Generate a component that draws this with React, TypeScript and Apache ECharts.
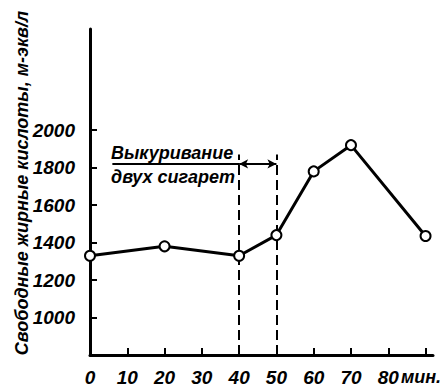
import React, { useEffect, useRef } from "react";
import * as echarts from "echarts";

const minutes = [0, 20, 40, 50, 60, 70, 90];
const ffaValues = [1330, 1380, 1330, 1440, 1780, 1920, 1435];
const yTickValues = [1000, 1200, 1400, 1600, 1800, 2000];
const xTickValues = [10, 20, 30, 40, 50, 60, 70, 80, 90];
const xLabelValues = [0, 10, 20, 30, 40, 50, 60, 70, 80];
const smokingStart = 40;
const smokingEnd = 50;
const dashTop = 1870;
const arrowLevel = 1820;
const underlineStart = 6;
const yAxisTitle = "Свободные жирные кислоты, м-экв/л";
const noteLines = ["Выкуривание", "двух сигарет"];
const unitLabel = "мин.";

const FONT = "'Liberation Sans', Arial, sans-serif";

export default function App() {
  const ref = useRef<HTMLDivElement>(null);
  useEffect(() => {
    if (!ref.current) return;
    const chart = echarts.init(ref.current, undefined, { renderer: "svg" });
    const txt = {
      fontFamily: FONT,
      fontStyle: "italic" as const,
      fontWeight: "bold" as const,
      color: "#000",
      fontSize: 19,
    };
    chart.setOption({
      animation: false,
      backgroundColor: "#fff",
      grid: { left: 90, right: 11, top: 29, bottom: 35 },
      xAxis: {
        type: "value",
        min: 0,
        max: 92,
        axisLine: { show: true, lineStyle: { color: "#000", width: 3 } },
        axisTick: {
          show: true,
          inside: true,
          length: 7,
          customValues: xTickValues,
          lineStyle: { color: "#000", width: 2 },
        },
        axisLabel: {
          ...txt,
          margin: 13,
          customValues: xLabelValues,
          formatter: (v: number) => String(v),
        },
        splitLine: { show: false },
      },
      yAxis: {
        type: "value",
        min: 800,
        max: 2540,
        axisLine: { show: true, lineStyle: { color: "#000", width: 3 } },
        axisTick: {
          show: true,
          inside: true,
          length: 7,
          customValues: yTickValues,
          lineStyle: { color: "#000", width: 2 },
        },
        axisLabel: {
          ...txt,
          margin: 15,
          customValues: yTickValues,
          formatter: (v: number) => String(v),
        },
        splitLine: { show: false },
      },
      graphic: [
        {
          type: "text",
          x: 22,
          y: 183,
          rotation: Math.PI / 2,
          style: {
            text: yAxisTitle,
            font: `italic bold 18px ${FONT}`,
            fill: "#000",
            align: "center",
            verticalAlign: "middle",
          },
        },
        {
          type: "text",
          x: 111,
          y: 153,
          style: {
            text: noteLines[0],
            font: `italic bold 18px ${FONT}`,
            fill: "#000",
            align: "left",
            verticalAlign: "middle",
          },
        },
        {
          type: "text",
          x: 111,
          y: 177,
          style: {
            text: noteLines[1],
            font: `italic bold 18px ${FONT}`,
            fill: "#000",
            align: "left",
            verticalAlign: "middle",
          },
        },
        {
          type: "text",
          x: 421,
          y: 377,
          style: {
            text: unitLabel,
            font: `italic bold 18px ${FONT}`,
            fill: "#000",
            align: "center",
            verticalAlign: "middle",
          },
        },
      ],
      series: [
        {
          type: "line",
          data: minutes.map((m, i) => [m, ffaValues[i]]),
          clip: false,
          symbol: "circle",
          symbolSize: 10,
          lineStyle: { color: "#000", width: 3 },
          itemStyle: { color: "#fff", borderColor: "#000", borderWidth: 2 },
          z: 5,
          markLine: {
            silent: true,
            animation: false,
            symbol: ["none", "none"],
            label: { show: false },
            lineStyle: { color: "#000", width: 2, type: [10, 5] },
            data: [
              [{ coord: [smokingStart, 800] }, { coord: [smokingStart, dashTop] }],
              [{ coord: [smokingEnd, 800] }, { coord: [smokingEnd, dashTop] }],
            ],
          },
        },
        {
          type: "line",
          data: [[smokingStart, arrowLevel]],
          symbol: "none",
          lineStyle: { width: 0 },
          markLine: {
            silent: true,
            animation: false,
            symbol: ["none", "none"],
            label: { show: false },
            symbolSize: [7, 9],
            lineStyle: { color: "#000", width: 2, type: "solid" },
            data: [
              [{ coord: [underlineStart, arrowLevel] }, { coord: [smokingStart, arrowLevel] }],
              [
                { coord: [smokingStart, arrowLevel], symbol: "arrow" },
                { coord: [smokingEnd, arrowLevel], symbol: "arrow" },
              ],
            ],
          },
        },
      ],
    });
    return () => chart.dispose();
  }, []);
  return <div ref={ref} style={{ width: 444, height: 390, position: "absolute", left: 0, top: 0 }} />;
}
